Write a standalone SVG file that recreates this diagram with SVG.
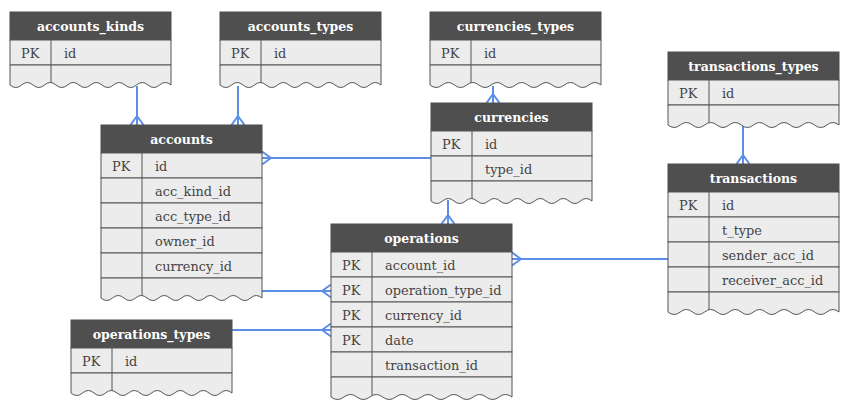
<svg xmlns="http://www.w3.org/2000/svg" width="850" height="405" viewBox="0 0 850 405">
<style>
.hdr{fill:#4f4f4f;stroke:#4f4f4f;stroke-width:1}
.row{fill:#ececec;stroke:#555;stroke-width:1}
.dv{stroke:#555;stroke-width:1}
.ht{font-family:"DejaVu Serif","Liberation Serif",serif;font-size:12.5px;font-weight:bold;fill:#fff;text-anchor:middle;dominant-baseline:central}
.tx{font-family:"DejaVu Serif","Liberation Serif",serif;font-size:12.9px;fill:#444}
.cn{fill:none;stroke:#5b8ee6;stroke-width:2}
</style>
<rect width="850" height="405" fill="#fff"/>
<g id="connectors">
<path class="cn" d="M137,86 V125 M137,116 L130.5,125 M137,116 L143.5,125"/>
<path class="cn" d="M238,86 V125 M238,116 L231.5,125 M238,116 L244.5,125"/>
<path class="cn" d="M493,86 V103 M493,94 L486.5,103 M493,94 L499.5,103"/>
<path class="cn" d="M431,158 H262 M271,158 L262,151.5 M271,158 L262,164.5"/>
<path class="cn" d="M448,200 V224 M448,215 L441.5,224 M448,215 L454.5,224"/>
<path class="cn" d="M262,291 H331 M322,291 L331,284.5 M322,291 L331,297.5"/>
<path class="cn" d="M232,330 H331 M322,330 L331,323.5 M322,330 L331,336.5"/>
<path class="cn" d="M668,259 H512 M521,259 L512,252.5 M521,259 L512,265.5"/>
<path class="cn" d="M743,126 V164 M743,155 L736.5,164 M743,155 L749.5,164"/>
</g>
<g id="accounts_kinds">
<rect class="hdr" x="10" y="12" width="161" height="28"/>
<text class="ht" x="90.5" y="26">accounts_kinds</text>
<rect class="row" x="10" y="40" width="161" height="25"/>
<text class="tx" x="21" y="57.5">PK</text><text class="tx" x="64" y="57.5">id</text>
<path class="row" d="M10,65 V85 q5.75,5 11.5,0 t11.5,0 t11.5,0 t11.5,0 t11.5,0 t11.5,0 t11.5,0 t11.5,0 t11.5,0 t11.5,0 t11.5,0 t11.5,0 t11.5,0 t11.5,0 V65 Z"/>
<line class="dv" x1="51" y1="40" x2="51" y2="83"/>
</g>
<g id="accounts_types">
<rect class="hdr" x="220" y="12" width="161" height="28"/>
<text class="ht" x="300.5" y="26">accounts_types</text>
<rect class="row" x="220" y="40" width="161" height="25"/>
<text class="tx" x="231" y="57.5">PK</text><text class="tx" x="274" y="57.5">id</text>
<path class="row" d="M220,65 V85 q5.75,5 11.5,0 t11.5,0 t11.5,0 t11.5,0 t11.5,0 t11.5,0 t11.5,0 t11.5,0 t11.5,0 t11.5,0 t11.5,0 t11.5,0 t11.5,0 t11.5,0 V65 Z"/>
<line class="dv" x1="261" y1="40" x2="261" y2="83"/>
</g>
<g id="currencies_types">
<rect class="hdr" x="430" y="12" width="171" height="28"/>
<text class="ht" x="515.5" y="26">currencies_types</text>
<rect class="row" x="430" y="40" width="171" height="25"/>
<text class="tx" x="441" y="57.5">PK</text><text class="tx" x="484" y="57.5">id</text>
<path class="row" d="M430,65 V85 q6.107,5 12.214,0 t12.214,0 t12.214,0 t12.214,0 t12.214,0 t12.214,0 t12.214,0 t12.214,0 t12.214,0 t12.214,0 t12.214,0 t12.214,0 t12.214,0 t12.214,0 V65 Z"/>
<line class="dv" x1="471" y1="40" x2="471" y2="83"/>
</g>
<g id="transactions_types">
<rect class="hdr" x="668" y="52" width="171" height="28"/>
<text class="ht" x="753.5" y="66">transactions_types</text>
<rect class="row" x="668" y="80" width="171" height="25"/>
<text class="tx" x="679" y="97.5">PK</text><text class="tx" x="722" y="97.5">id</text>
<path class="row" d="M668,105 V125 q6.107,5 12.214,0 t12.214,0 t12.214,0 t12.214,0 t12.214,0 t12.214,0 t12.214,0 t12.214,0 t12.214,0 t12.214,0 t12.214,0 t12.214,0 t12.214,0 t12.214,0 V105 Z"/>
<line class="dv" x1="709" y1="80" x2="709" y2="123"/>
</g>
<g id="accounts">
<rect class="hdr" x="101" y="125" width="161" height="28"/>
<text class="ht" x="181.5" y="139">accounts</text>
<rect class="row" x="101" y="153" width="161" height="25"/>
<rect class="row" x="101" y="178" width="161" height="25"/>
<rect class="row" x="101" y="203" width="161" height="25"/>
<rect class="row" x="101" y="228" width="161" height="25"/>
<rect class="row" x="101" y="253" width="161" height="25"/>
<text class="tx" x="112" y="170.5">PK</text><text class="tx" x="155" y="170.5">id</text>
<text class="tx" x="155" y="195.5">acc_kind_id</text>
<text class="tx" x="155" y="220.5">acc_type_id</text>
<text class="tx" x="155" y="245.5">owner_id</text>
<text class="tx" x="155" y="270.5">currency_id</text>
<path class="row" d="M101,278 V298 q5.75,5 11.5,0 t11.5,0 t11.5,0 t11.5,0 t11.5,0 t11.5,0 t11.5,0 t11.5,0 t11.5,0 t11.5,0 t11.5,0 t11.5,0 t11.5,0 t11.5,0 V278 Z"/>
<line class="dv" x1="142" y1="153" x2="142" y2="296"/>
</g>
<g id="currencies">
<rect class="hdr" x="431" y="103" width="161" height="28"/>
<text class="ht" x="511.5" y="117">currencies</text>
<rect class="row" x="431" y="131" width="161" height="25"/>
<rect class="row" x="431" y="156" width="161" height="25"/>
<text class="tx" x="442" y="148.5">PK</text><text class="tx" x="485" y="148.5">id</text>
<text class="tx" x="485" y="173.5">type_id</text>
<path class="row" d="M431,181 V201 q5.75,5 11.5,0 t11.5,0 t11.5,0 t11.5,0 t11.5,0 t11.5,0 t11.5,0 t11.5,0 t11.5,0 t11.5,0 t11.5,0 t11.5,0 t11.5,0 t11.5,0 V181 Z"/>
<line class="dv" x1="472" y1="131" x2="472" y2="199"/>
</g>
<g id="operations">
<rect class="hdr" x="331" y="224" width="181" height="28"/>
<text class="ht" x="421.5" y="238">operations</text>
<rect class="row" x="331" y="252" width="181" height="25"/>
<rect class="row" x="331" y="277" width="181" height="25"/>
<rect class="row" x="331" y="302" width="181" height="25"/>
<rect class="row" x="331" y="327" width="181" height="25"/>
<rect class="row" x="331" y="352" width="181" height="25"/>
<text class="tx" x="342" y="269.5">PK</text><text class="tx" x="385" y="269.5">account_id</text>
<text class="tx" x="342" y="294.5">PK</text><text class="tx" x="385" y="294.5">operation_type_id</text>
<text class="tx" x="342" y="319.5">PK</text><text class="tx" x="385" y="319.5">currency_id</text>
<text class="tx" x="342" y="344.5">PK</text><text class="tx" x="385" y="344.5">date</text>
<text class="tx" x="385" y="369.5">transaction_id</text>
<path class="row" d="M331,377 V397 q6.464,5 12.929,0 t12.929,0 t12.929,0 t12.929,0 t12.929,0 t12.929,0 t12.929,0 t12.929,0 t12.929,0 t12.929,0 t12.929,0 t12.929,0 t12.929,0 t12.929,0 V377 Z"/>
<line class="dv" x1="372" y1="252" x2="372" y2="395"/>
</g>
<g id="transactions">
<rect class="hdr" x="668" y="164" width="171" height="28"/>
<text class="ht" x="753.5" y="178">transactions</text>
<rect class="row" x="668" y="192" width="171" height="25"/>
<rect class="row" x="668" y="217" width="171" height="25"/>
<rect class="row" x="668" y="242" width="171" height="25"/>
<rect class="row" x="668" y="267" width="171" height="25"/>
<text class="tx" x="679" y="209.5">PK</text><text class="tx" x="722" y="209.5">id</text>
<text class="tx" x="722" y="234.5">t_type</text>
<text class="tx" x="722" y="259.5">sender_acc_id</text>
<text class="tx" x="722" y="284.5">receiver_acc_id</text>
<path class="row" d="M668,292 V312 q6.107,5 12.214,0 t12.214,0 t12.214,0 t12.214,0 t12.214,0 t12.214,0 t12.214,0 t12.214,0 t12.214,0 t12.214,0 t12.214,0 t12.214,0 t12.214,0 t12.214,0 V292 Z"/>
<line class="dv" x1="709" y1="192" x2="709" y2="310"/>
</g>
<g id="operations_types">
<rect class="hdr" x="71" y="320" width="161" height="28"/>
<text class="ht" x="151.5" y="334">operations_types</text>
<rect class="row" x="71" y="348" width="161" height="25"/>
<text class="tx" x="82" y="365.5">PK</text><text class="tx" x="125" y="365.5">id</text>
<path class="row" d="M71,373 V393 q5.75,5 11.5,0 t11.5,0 t11.5,0 t11.5,0 t11.5,0 t11.5,0 t11.5,0 t11.5,0 t11.5,0 t11.5,0 t11.5,0 t11.5,0 t11.5,0 t11.5,0 V373 Z"/>
<line class="dv" x1="112" y1="348" x2="112" y2="391"/>
</g>
</svg>
